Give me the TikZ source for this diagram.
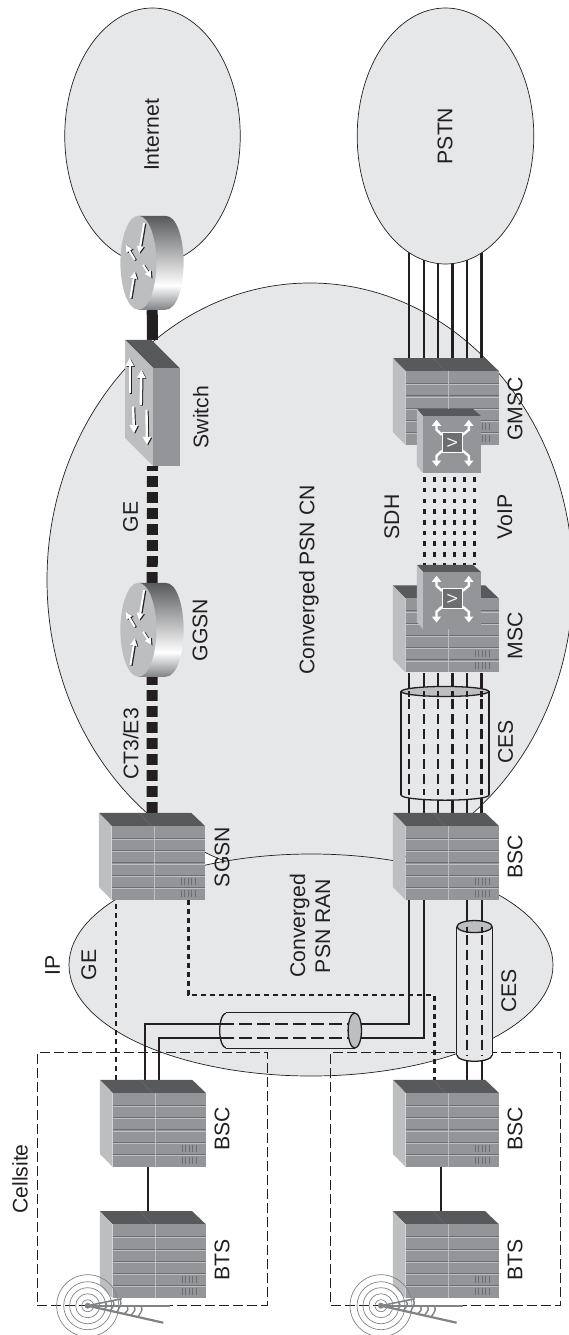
\documentclass[tikz,border=0pt]{standalone}
\usepackage{fontspec}
\setmainfont{Liberation Sans}
\usetikzlibrary{arrows.meta,positioning,shapes.geometric,calc}
\definecolor{Ink}{HTML}{231F20}
\definecolor{Cloud}{HTML}{E6E7E8}
\definecolor{RackTop}{HTML}{58595B}
\definecolor{RackFront}{HTML}{939598}
\definecolor{RackSide}{HTML}{BCBEC0}
\definecolor{RackLine}{HTML}{6D6E71}
\definecolor{Mast}{HTML}{808285}
\pgfdeclareverticalshading{routerbody}{100bp}{color(0bp)=(Mast); color(25bp)=(Mast); color(38bp)=(white); color(75bp)=(RackTop); color(100bp)=(RackTop)}
\tikzset{
  rack/.pic={
    \fill[RackTop] (0,0) -- (92.4,0) -- (106,13) -- (12.7,13) -- cycle;
    \fill[RackSide] (0,0) -- (12.7,13) -- (12.7,87) -- (0,74) -- cycle;
    \fill[RackFront] (12.7,13) rectangle (106,87);
    \draw[RackLine,thin] (40,0) -- (52.5,13);
    \foreach \r in {25.5,37.8,50,62.3,74.5} {
      \draw[RackLine,line width=1pt] (12.7,\r) -- (106,\r);
      \draw[RackSide,line width=.6pt] (12.7,\r+1) -- (106,\r+1);
    }
    \draw[RackSide,line width=1pt] (55.8,13) -- (55.8,87);
    \foreach \t in {82,85.5,89,92.5,96} {
      \draw[RackLine,line width=.6pt] (\t,65) -- (\t,72);
      \draw[RackLine,line width=.6pt] (\t,77) -- (\t,84);
    }
  },
  voice/.pic={
    \fill[RackTop] (0,0) -- (56,0) -- (64,7) -- (6,7) -- cycle;
    \fill[RackSide] (0,0) -- (6,7) -- (6,64) -- (0,57) -- cycle;
    \fill[RackFront] (6,7) rectangle (64,64);
    \foreach \ax/\ay/\bx/\by in {25.2/26/19.7/21,46/26/52/21} {
      \draw[white,line width=2.4pt,-{Triangle[width=9pt,length=6pt]}] (\ax,\ay) -- (\bx,\by) -- (\bx,11);
    }
    \foreach \ax/\ay/\bx/\by in {25.2/42/19.7/47,46/42/52/47} {
      \draw[white,line width=2.4pt,-{Triangle[width=9pt,length=6pt]}] (\ax,\ay) -- (\bx,\by) -- (\bx,57.7);
    }
    \node[draw=white,fill=RackLine,line width=.8pt,minimum size=20pt,inner sep=0pt,text=white,rotate=90,font=\fontsize{14}{14}\selectfont] (-vee) at (35.5,34) {V};
  },
  router/.pic={
    \shade[shading=routerbody] (18,0) -- (45,0) .. controls (57,0) and (63.2,24) .. (63.2,47) .. controls (63.2,70) and (57,94) .. (45,94) -- (18,94) -- cycle;
    \fill[RackSide] (18,47) ellipse[x radius=18,y radius=47];
    \foreach \ax/\ay/\bx/\by in {23.7/7.3/18.7/37.3,14.4/44/5.4/29,10/82.3/14.4/55.7,22.7/49/31/62.3} {
      \draw[Ink,line width=2pt,-{Triangle[width=6.5pt,length=7pt]}] (\ax+1.2,\ay+.6) -- (\bx+1.2,\by+.6);
      \draw[white,line width=2pt,-{Triangle[width=6.5pt,length=7pt]}] (\ax,\ay) -- (\bx,\by);
    }
  },
  switchgear/.pic={
    \fill[RackTop] (0,0) -- (26.5,0) -- (54.5,28) -- (28,28) -- cycle;
    \fill[RackSide] (0,0) -- (28,28) -- (28,126) -- (0,98) -- cycle;
    \fill[RackFront] (28,28) rectangle (54.5,126);
    \foreach \ax/\ay/\bx/\by in {4.7/53.3/4.7/18.3,15.7/65/16.4/30,8/66.7/9/93.3,21.4/70/22/105} {
      \draw[Ink,line width=2.4pt,-{Triangle[width=8pt,length=8pt]}] (\ax+1,\ay+.8) -- (\bx+1,\by+.8);
      \draw[white,line width=2.4pt,-{Triangle[width=8pt,length=8pt]}] (\ax,\ay) -- (\bx,\by);
    }
  },
  antenna/.pic={
    \foreach \c in {6,12,18,24,31} {
      \draw[Mast,line width=.7pt] (0,0) circle[radius=\c];
    }
    \foreach \sx/\sy/\ex/\ey in {18/-3/15/4,25/-5/22/5.5,32/-6.5/29/7,39/0/36/8.5,46/0/43/10,53/0/50/11.5} {
      \draw[Mast,line width=1.4pt] (\sx,\sy) .. controls (\sx+2,\sy+4) .. (\ex,\ey);
    }
    \draw[Mast,line width=2.2pt] (0,0) -- (82,0);
    \draw[Mast,line width=2.2pt] (0,0) -- (75.6,17);
    \draw[Mast,line width=1.6pt] (0,0) -- (34,-7);
    \fill[Mast] (0,0) circle[radius=3];
  }
}
\begin{document}
\begin{tikzpicture}[
  x=1pt,y=-1pt,
  blob/.style={ellipse,draw=Ink,fill=Cloud,line width=.7pt,inner sep=0pt},
  rackbox/.style={minimum width=106pt,minimum height=87pt,inner sep=0pt},
  voicebox/.style={minimum width=64pt,minimum height=64pt,inner sep=0pt},
  routerbox/.style={minimum width=63.2pt,minimum height=94pt,inner sep=0pt},
  switchbox/.style={minimum width=54.5pt,minimum height=126pt,inner sep=0pt},
  tubebox/.style={inner sep=0pt},
  lbl/.style={rotate=90,text=Ink,align=center,inner sep=0pt,font=\fontsize{21.2}{25}\selectfont},
  wire/.style={line width=2.2pt,draw=Ink},
  wirebroken/.style={line width=2.2pt,draw=Ink,dash pattern=on 10pt off 5pt},
  wirelong/.style={line width=2.2pt,draw=Ink,dash pattern=on 13pt off 5pt},
  wirevoip/.style={line width=2.8pt,draw=Ink,dash pattern=on 4.5pt off 6.2pt},
  wirege/.style={line width=2.6pt,draw=Ink,dash pattern=on 5pt off 4pt},
  fatlink/.style={line width=11pt,draw=Ink},
  fatbroken/.style={line width=11pt,draw=Ink,dash pattern=on 10.7pt off 5.3pt},
  cellbox/.style={draw=Ink,line width=.8pt,dash pattern=on 10pt off 4pt},
  tubeline/.style={draw=Ink,line width=1.3pt},
  tubeend/.style={draw=Ink,fill=RackSide,line width=1.3pt}
]
\useasboundingbox (0,0) rectangle (568,1335);
% core and access clouds
\node[blob,minimum width=526pt,minimum height=594pt] (cn) at (310,580) {};
\node[blob,minimum width=484pt,minimum height=222pt] (ran) at (311,965) {};
\node[blob,minimum width=175.5pt,minimum height=256pt] (internet) at (152.5,136) {};
% equipment
\node[rackbox] (bsca) at (153,1123.5) {};
\node[rackbox,below=44pt of bsca] (btsa) {};
\node[rackbox] (bscb) at (446,1123.5) {};
\node[rackbox,below=44pt of bscb] (btsb) {};
\node[rackbox] (sgsn) at (152,856.5) {};
\node[rackbox] (bscc) at (446,856.5) {};
\node[rackbox,above=140pt of bscc] (msc) {};
\node[rackbox,above=140pt of msc] (gmsc) {};
\node[voicebox] (voicea) at (449,597) {};
\node[voicebox] (voiceb) at (449,441) {};
\node[routerbox] (ggsn) at (152.2,630) {};
\node[routerbox] (edge) at (152.2,263) {};
\node[switchbox] (swi) at (152.5,403) {};
\node[tubebox,minimum width=87.6pt,minimum height=103.3pt] (cesc) at (445,743.3) {};
\node[tubebox,minimum width=35pt,minimum height=128.3pt] (cesr) at (474.5,990.9) {};
\node[tubebox,minimum width=128pt,minimum height=35pt] (cesh) at (290.6,1030.5) {};
% links
\draw[wire] ([xshift=48pt]btsa.north west) -- ([xshift=48pt]bsca.south west);
\draw[wire] ([xshift=48pt]btsb.north west) -- ([xshift=48pt]bscb.south west);
\foreach \dx in {16.3,30.8,45.2,59.6,74.1,88.6} {
  \draw[wire] ([xshift=\dx pt]gmsc.north west) -- ([xshift=\dx pt]gmsc.north west |- internet.center);
  \draw[wire] ([xshift=\dx pt]bscc.north west) -- ([xshift=\dx pt]msc.south west);
}
\foreach \dx in {7.5,17.7,27.8,38,48,58} {
  \draw[wirevoip] ([xshift=\dx pt,yshift=-4pt]voiceb.south west) -- ([xshift=\dx pt]voicea.north west);
}
\draw[wire] ([xshift=74.4pt]bscc.south west) -- ([xshift=74.4pt]bscb.north west);
\draw[wire] ([xshift=89pt]bscc.south west) -- ([xshift=89pt]bscb.north west);
\draw[wire] ([xshift=16.4pt]bscc.south west) |- (ran.center |- 0,1024) -| ([xshift=45pt]bsca.north west);
\draw[wire] ([xshift=31pt]bscc.south west) |- (ran.center |- 0,1038) -| ([xshift=59.4pt]bsca.north west);
\draw[wirege] ([xshift=16pt]bsca.north west) -- ([xshift=17pt]sgsn.south west);
\draw[wirege] ([xshift=89.4pt]sgsn.south west) |- (ran.center |- 0,995) -| ([xshift=41.8pt]bscb.north west);
\draw[fatbroken] (sgsn.north) -- (ggsn.south);
\draw[fatbroken] (ggsn.north) -- (swi.south);
\draw[fatlink] (swi.north) -- (edge.south);
\node[blob,minimum width=176.6pt,minimum height=256pt] (pstn) at (445.5,136) {};
% cell sites
\node[cellbox,minimum width=229.7pt,minimum height=253pt,inner sep=0pt] (cella) at (152.1,1179.2) {};
\node[cellbox,minimum width=229.7pt,minimum height=253pt,inner sep=0pt] (cellb) at (445.7,1179.2) {};
% circuit emulation tubes
\foreach \n/\rx/\ry in {cesc/43.8/5,cesr/17.5/6} {
  \draw[tubeline,fill=Cloud] (\n.south) ellipse[x radius=\rx,y radius=\ry];
  \fill[Cloud] (\n.north west) rectangle (\n.south east);
  \draw[tubeline] (\n.north west) -- (\n.south west);
  \draw[tubeline] (\n.north east) -- (\n.south east);
  \draw[tubeend] (\n.north) ellipse[x radius=\rx,y radius=\ry];
}
\draw[tubeline,fill=Cloud] (cesh.west) ellipse[x radius=6.7,y radius=17.5];
\fill[Cloud] (cesh.north west) rectangle (cesh.south east);
\draw[tubeline] (cesh.north west) -- (cesh.north east);
\draw[tubeline] (cesh.south west) -- (cesh.south east);
\draw[tubeend] (cesh.east) ellipse[x radius=6.7,y radius=17.5];
\foreach \dx in {16.3,30.8,45.2,59.6,74.1,88.6} {
  \draw[wire] ([xshift=\dx pt]bscc.north west |- cesc.north) -- ++(0,6);
  \draw[wirebroken] ([xshift=\dx pt]bscc.north west |- cesc.north) ++(0,8) -- ([xshift=\dx pt]bscc.north west |- cesc.south);
}
\foreach \dx in {74.4,89} {
  \draw[wire] ([xshift=\dx pt]bscc.south west |- cesr.north) -- ++(0,6);
  \draw[wirebroken] ([xshift=\dx pt]bscc.south west |- cesr.north) ++(0,8) -- ([xshift=\dx pt]bscc.south west |- cesr.south);
}
\draw[wirelong] (cesh.west |- 0,1024) ++(-5,0) -- ([xshift=-6pt]cesh.east |- 0,1024);
\draw[wirelong] (cesh.west |- 0,1038) ++(-5,0) -- ([xshift=-6pt]cesh.east |- 0,1038);
% icons on top of the links
\foreach \n in {bsca,btsa,bscb,btsb,sgsn,bscc,msc,gmsc} {
  \pic at (\n.north west) {rack};
}
\foreach \n in {voicea,voiceb} {
  \pic (\n) at (\n.north west) {voice};
}
\foreach \n in {ggsn,edge} {
  \pic at (\n.north west) {router};
}
\pic at (swi.north west) {switchgear};
\pic at (87.7,1305.7) {antenna};
\pic at (381,1305.7) {antenna};
% labels
\node[lbl] (lblcell) at (20,1179) {Cellsite};
\node[lbl] (lblip) at (52.5,965) {IP};
\node[lbl] (lblgea) at (88.8,965) {GE};
\node[lbl] (lblran) at (310,926) {Converged\\PSN RAN};
\node[lbl] (lblcesr) at (508.7,991) {CES};
\node[lbl] (lblbsca) at (222,1129) {BSC};
\node[lbl] (lblbtsa) at (222,1260) {BTS};
\node[lbl] (lblbscb) at (515,1129) {BSC};
\node[lbl] (lblbtsb) at (515,1260) {BTS};
\node[lbl] (lblsgsn) at (222,857) {SGSN};
\node[lbl] (lblbscc) at (515,857) {BSC};
\node[lbl] (lblcesc) at (505.6,742) {CES};
\node[lbl] (lblmsc) at (515,636) {MSC};
\node[lbl] (lblggsn) at (200,630) {GGSN};
\node[lbl] (lblgeb) at (130.7,517) {GE};
\node[lbl] (lblct) at (130.7,744) {CT3/E3};
\node[lbl] (lblcn) at (309,580) {Converged PSN CN};
\node[lbl] (lblsdh) at (391.7,517) {SDH};
\node[lbl] (lblvoip) at (505,517) {VoIP};
\node[lbl] (lblswitch) at (200.7,417) {Switch};
\node[lbl] (lblgmsc) at (515,409) {GMSC};
\node[lbl] (lblinternet) at (151.7,135) {Internet};
\node[lbl] (lblpstn) at (445,136) {PSTN};
\end{tikzpicture}
\end{document}
